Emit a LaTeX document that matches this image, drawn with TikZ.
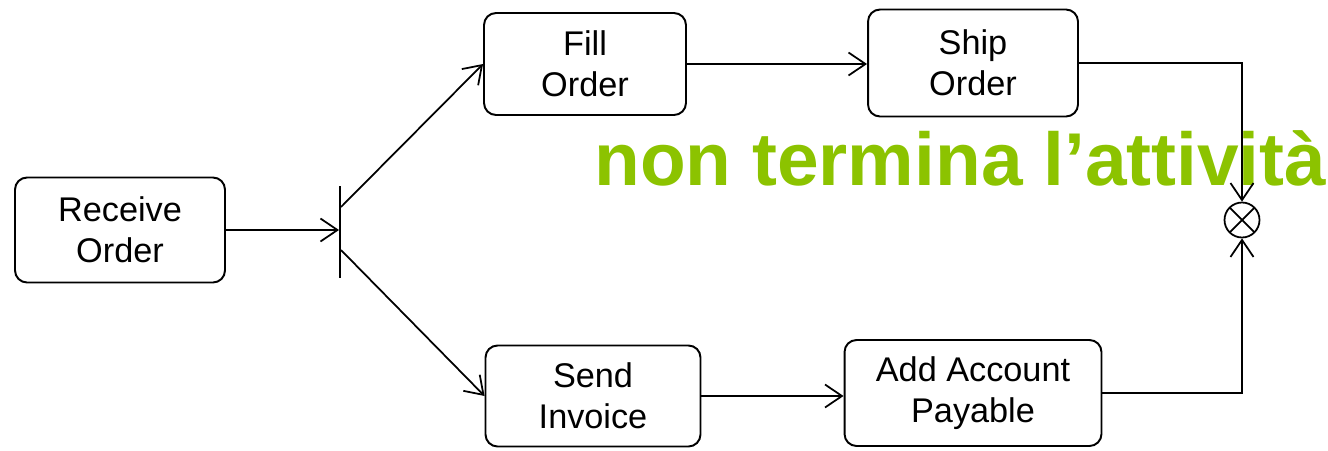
\documentclass[tikz,border=0pt]{standalone}
\usepackage{fontspec}
\setmainfont{Liberation Sans}
\usetikzlibrary{arrows.meta}
\definecolor{lime}{RGB}{140,195,0}
\tikzset{
  act/.style={draw, rounded corners=0.24cm, line width=1.1pt, align=center,
    font=\fontsize{19.5}{23.5}\selectfont, inner sep=0pt},
  flow/.style={line width=1pt, -{Straight Barb[length=3.4mm,width=4.6mm,line width=1pt]}},
  finalnode/.style={draw, circle, line width=1pt, minimum size=0.7cm, inner sep=0pt,
    path picture={\draw[line width=1pt] (path picture bounding box.north west) -- (path picture bounding box.south east)
      (path picture bounding box.south west) -- (path picture bounding box.north east);}}
}
\begin{document}
\begin{tikzpicture}[x=0.02cm,y=-0.02cm]
        \useasboundingbox (0,0) rectangle (1328,450);
        % Nodes
        \node at (120,230) [act, minimum width=4.2cm, minimum height=2.1cm] (receive) {Receive\\Order};
        \node at (340,232) [draw, line width=1.1pt, minimum height=1.84cm, minimum width=0pt, inner sep=0pt] (fork) {};
        \coordinate (forkup) at (341,207);
        \coordinate (forkdown) at (341,250);
        \node at (585,64) [act, minimum width=4.04cm, minimum height=2.04cm] (fill) {Fill\\Order};
        \node at (973,63) [act, minimum width=4.2cm, minimum height=2.14cm] (ship) {Ship\\Order};
        \node at (593,396) [act, minimum width=4.3cm, minimum height=2.02cm] (send) {Send\\Invoice};
        \node at (973,393) [act, minimum width=5.14cm, minimum height=2.12cm] (add) {Add Account\\Payable};
        \node at (1242,220) [finalnode] (final) {};
        \node at (594,185) [anchor=base west, inner sep=0pt, text=lime,
          font=\fontsize{42.6}{50}\selectfont\bfseries] (note) {non termina l’attività};

        % Arrows
        \draw[flow] (receive.east) -- (receive.east -| fork.west);
        \draw[flow] (forkup) -- (fill.west);
        \draw[flow] (forkdown) -- (send.west);
        \draw[flow] (fill.east) -- (fill.east -| ship.west);
        \draw[flow] (send.east) -- (send.east -| add.west);
        \draw[flow] (ship.east) -| (final.north);
        \draw[flow] (add.east) -| (final.south);
    \end{tikzpicture}
\end{document}
